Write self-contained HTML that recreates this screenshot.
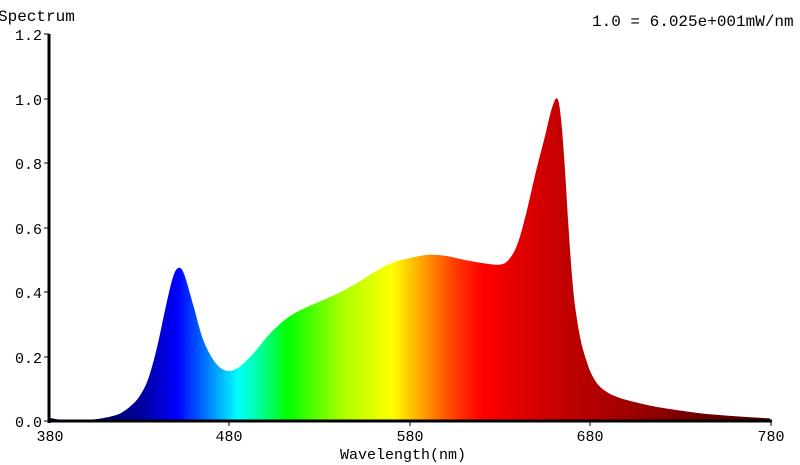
<!DOCTYPE html>
<html><head><meta charset="utf-8"><style>
html,body{margin:0;padding:0;background:#fff;}
svg{display:block;font-family:"Liberation Mono","Courier New",monospace;}
</style></head><body>
<svg id="s" width="800" height="465" viewBox="0 0 800 465">
<defs>
<linearGradient id="g" gradientUnits="userSpaceOnUse" x1="49" y1="0" x2="771" y2="0">
<stop offset="0" stop-color="#000040"/>
<stop offset="0.08" stop-color="#000070"/>
<stop offset="0.13" stop-color="#0000a0"/>
<stop offset="0.178" stop-color="#0000ff"/>
<stop offset="0.21" stop-color="#0060ff"/>
<stop offset="0.262" stop-color="#00ffff"/>
<stop offset="0.295" stop-color="#00ff90"/>
<stop offset="0.33" stop-color="#00ff00"/>
<stop offset="0.41" stop-color="#b0ff00"/>
<stop offset="0.475" stop-color="#ffff00"/>
<stop offset="0.525" stop-color="#ff9000"/>
<stop offset="0.56" stop-color="#ff4000"/>
<stop offset="0.6" stop-color="#ff0000"/>
<stop offset="0.7" stop-color="#c80000"/>
<stop offset="0.8" stop-color="#a00000"/>
<stop offset="1" stop-color="#400000"/>
</linearGradient>
</defs>
<path id="p" fill="url(#g)" d=""/>
<g stroke="#000" stroke-width="3" fill="none">
<line x1="49" y1="34" x2="49" y2="423"/>
<line x1="47.5" y1="421" x2="772" y2="421"/>
</g>
<g stroke="#000" stroke-width="1">
<line x1="44" y1="34" x2="49" y2="34"/><line x1="44" y1="99" x2="49" y2="99"/>
<line x1="44" y1="163" x2="49" y2="163"/><line x1="44" y1="228" x2="49" y2="228"/>
<line x1="44" y1="292" x2="49" y2="292"/><line x1="44" y1="357" x2="49" y2="357"/>
<line x1="44" y1="421" x2="49" y2="421"/>
<line x1="229" y1="421" x2="229" y2="426"/><line x1="410" y1="421" x2="410" y2="426"/>
<line x1="590" y1="421" x2="590" y2="426"/><line x1="771" y1="421" x2="771" y2="426"/>
</g>
<g font-size="15" fill="#000" text-anchor="end">
<text x="42" y="40">1.2</text><text x="42" y="105">1.0</text><text x="42" y="169">0.8</text>
<text x="42" y="234">0.6</text><text x="42" y="298">0.4</text><text x="42" y="363">0.2</text>
<text x="42" y="427">0.0</text>
</g>
<g font-size="15" fill="#000" text-anchor="middle">
<text x="50" y="441">380</text><text x="229" y="441">480</text><text x="410" y="441">580</text>
<text x="590" y="441">680</text><text x="771" y="441">780</text>
<text x="403" y="459">Wavelength(nm)</text>
</g>
<text x="-2" y="21" font-size="16">Spectrum</text>
<text x="592" y="26" font-size="16">1.0 = 6.025e+001mW/nm</text>
</svg>
<script>
var d=[[380,0.01],[385,0.005],[390,0.003],[395,0.002],[400,0.003],[405,0.005],[410,0.009],[415,0.015],[420,0.025],[425,0.045],[430,0.075],[435,0.13],[440,0.23],[445,0.36],[449,0.45],[452,0.475],[455,0.455],[460,0.36],[465,0.26],[470,0.2],[475,0.165],[480,0.155],[485,0.165],[490,0.19],[495,0.22],[500,0.255],[505,0.285],[510,0.31],[515,0.33],[520,0.345],[530,0.37],[540,0.395],[550,0.425],[560,0.46],[570,0.49],[580,0.505],[590,0.515],[600,0.512],[610,0.5],[620,0.49],[630,0.485],[635,0.5],[640,0.55],[645,0.65],[650,0.77],[655,0.88],[659,0.97],[662,1.0],[664,0.94],[666,0.8],[668,0.62],[670,0.46],[672,0.35],[675,0.25],[678,0.19],[681,0.145],[685,0.11],[690,0.088],[695,0.075],[700,0.066],[710,0.052],[720,0.041],[740,0.025],[760,0.015],[780,0.008]];
function X(n){return 49+(n-380)*1.8025;}function Y(v){return 421-v*322.5;}
var p=d.map(function(a){return[X(a[0]),Y(a[1])];});
var s="M"+p[0][0]+",421 L"+p[0][0]+","+p[0][1];
for(var i=0;i<p.length-1;i++){var a=p[i-1]||p[i],b=p[i],c=p[i+1],e=p[i+2]||c;
s+=" C"+(b[0]+(c[0]-a[0])/6)+","+(b[1]+(c[1]-a[1])/6)+" "+(c[0]-(e[0]-b[0])/6)+","+(c[1]-(e[1]-b[1])/6)+" "+c[0]+","+c[1];}
s+=" L"+p[p.length-1][0]+",421 Z";
document.getElementById("p").setAttribute("d",s);
</script>
</body></html>
